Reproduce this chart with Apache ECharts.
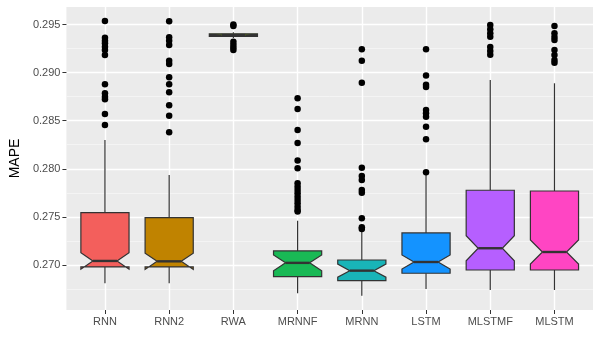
<!DOCTYPE html>
<html>
<head>
<meta charset="utf-8">
<script src="https://cdn.jsdelivr.net/npm/echarts@6/dist/echarts.min.js"></script>
<style>
  html, body { margin: 0; padding: 0; background: #fff; }
  #chart { width: 600px; height: 350px; }
</style>
</head>
<body>
<div id="chart"></div>
<script>
  // models on the x axis
  var categories = ['RNN', 'RNN2', 'RWA', 'MRNNF', 'MRNN', 'LSTM', 'MLSTMF', 'MLSTM'];

  // box statistics
  var whiskerLow  = [0.26810, 0.26810, 0.29360, 0.26706, 0.26681, 0.26751, 0.26740, 0.26740];
  var q1          = [0.26980, 0.26980, 0.29377, 0.26878, 0.26837, 0.26914, 0.26948, 0.26948];
  var median      = [0.27042, 0.27038, 0.29390, 0.27022, 0.26941, 0.27031, 0.27174, 0.27135];
  var q3          = [0.27544, 0.27492, 0.29404, 0.27146, 0.27052, 0.27333, 0.27777, 0.27769];
  var whiskerHigh = [0.28299, 0.27936, 0.29420, 0.27461, 0.27343, 0.27962, 0.28923, 0.28889];
  var notchHalf   = [0.00086, 0.00084, 0.00004, 0.00082, 0.00068, 0.00073, 0.00130, 0.00125];

  // outliers per model
  var outliers = [
    [0.29536, 0.29363, 0.29332, 0.29305, 0.29269, 0.29235, 0.29183, 0.28878, 0.28785, 0.28749, 0.28722, 0.28570, 0.28455],
    [0.29533, 0.29367, 0.29332, 0.29287, 0.29124, 0.29089, 0.28951, 0.28878, 0.28795, 0.28660, 0.28552, 0.28379],
    [0.29500, 0.29485, 0.29320, 0.29290, 0.29260, 0.29235],
    [0.28733, 0.28622, 0.28403, 0.28268, 0.28086, 0.28005, 0.27849, 0.27814, 0.27780, 0.27745, 0.27710, 0.27676, 0.27641, 0.27606, 0.27572, 0.27556],
    [0.29242, 0.29124, 0.28895, 0.28011, 0.27925, 0.27884, 0.27780, 0.27752, 0.27485, 0.27392, 0.27374],
    [0.29242, 0.28970, 0.28874, 0.28850, 0.28611, 0.28577, 0.28542, 0.28438, 0.28307, 0.27965],
    [0.29495, 0.29450, 0.29408, 0.29373, 0.29266, 0.29225, 0.29186],
    [0.29484, 0.29408, 0.29370, 0.29339, 0.29235, 0.29183, 0.29131, 0.29103]
  ];

  var majorTicks = [0.270, 0.275, 0.280, 0.285, 0.290, 0.295];
  var minorTicks = [0.2675, 0.2725, 0.2775, 0.2825, 0.2875, 0.2925];
  var catPositions = [1, 2, 3, 4, 5, 6, 7, 8];

  var fills = ['#F35F5C', '#C08300', '#7CAE00', '#19B955', '#19B4B8', '#1493FF', '#B65FFF', '#FF45C3'];

  var boxData = categories.map(function (c, i) {
    return [i + 1, whiskerLow[i], q1[i], median[i], q3[i], whiskerHigh[i], notchHalf[i]];
  });
  var outlierData = [];
  outliers.forEach(function (list, i) {
    list.forEach(function (v) { outlierData.push([i + 1, v]); });
  });

  // notched box, drawn like ggplot (polygon can fold past the hinges)
  function renderBox(params, api) {
    var x = api.value(0);
    var lo = api.value(1), b1 = api.value(2), md = api.value(3), b3 = api.value(4), hi = api.value(5), nh = api.value(6);
    var w = api.size([0.75, 0])[0];
    var cx = api.coord([x, md])[0];
    var xl = cx - w / 2, xr = cx + w / 2, ind = w * 0.25;
    var y = function (v) { return api.coord([x, v])[1]; };
    var pts = [
      [xl, y(b3)], [xl, y(md + nh)], [xl + ind, y(md)], [xl, y(md - nh)], [xl, y(b1)],
      [xr, y(b1)], [xr, y(md - nh)], [xr - ind, y(md)], [xr, y(md + nh)], [xr, y(b3)]
    ];
    var line = { stroke: '#333333', lineWidth: 1.2 };
    return {
      type: 'group',
      children: [
        { type: 'line', shape: { x1: cx, y1: y(b3), x2: cx, y2: y(hi) }, style: line },
        { type: 'line', shape: { x1: cx, y1: y(b1), x2: cx, y2: y(lo) }, style: line },
        { type: 'polygon', shape: { points: pts }, style: { fill: fills[params.dataIndex], stroke: '#333333', lineWidth: 1.2 } },
        { type: 'line', shape: { x1: xl + ind, y1: y(md), x2: xr - ind, y2: y(md) }, style: { stroke: '#333333', lineWidth: 2.4 } }
      ]
    };
  }

  var chart = echarts.init(document.getElementById('chart'));
  chart.setOption({
    animation: false,
    textStyle: { fontFamily: 'Liberation Sans, Arial, sans-serif' },
    grid: { left: 61, right: 7, top: 7, bottom: 40, show: true, backgroundColor: '#EBEBEB', borderWidth: 0 },
    xAxis: {
      type: 'value', min: 0.4, max: 8.6,
      axisLine: { show: false },
      axisTick: { customValues: catPositions, length: 4, lineStyle: { color: '#333333' } },
      axisLabel: {
        customValues: catPositions, margin: 6, color: '#4D4D4D', fontSize: 11,
        formatter: function (v) { return categories[Math.round(v) - 1]; }
      },
      splitLine: { show: true, lineStyle: { color: '#FFFFFF', width: 1.4 } }
    },
    yAxis: [{
      type: 'value', min: 0.26532, max: 0.29682,
      name: 'MAPE', nameLocation: 'middle', nameRotate: 90, nameGap: 44,
      nameTextStyle: { color: '#000000', fontSize: 14 },
      axisLine: { show: false },
      axisTick: { customValues: majorTicks, length: 4, lineStyle: { color: '#333333' } },
      axisLabel: {
        customValues: majorTicks, margin: 6, color: '#4D4D4D', fontSize: 11,
        formatter: function (v) { return v.toFixed(3); }
      },
      splitLine: { show: true, lineStyle: { color: '#FFFFFF', width: 1.4 } }
    }, {
      type: 'value', min: 0.26532, max: 0.29682, position: 'left',
      axisLine: { show: false },
      axisTick: { show: false, customValues: minorTicks },
      axisLabel: { show: false },
      splitLine: { show: true, lineStyle: { color: '#F5F5F5', width: 0.9 } }
    }],
    series: [{
      type: 'scatter',
      data: outlierData,
      symbolSize: 6.5,
      itemStyle: { color: '#000000', opacity: 1 },
      silent: true
    }, {
      type: 'custom',
      renderItem: renderBox,
      data: boxData,
      encode: { x: 0, y: [1, 2, 3, 4, 5] },
      clip: false,
      silent: true
    }]
  });
</script>
</body>
</html>
